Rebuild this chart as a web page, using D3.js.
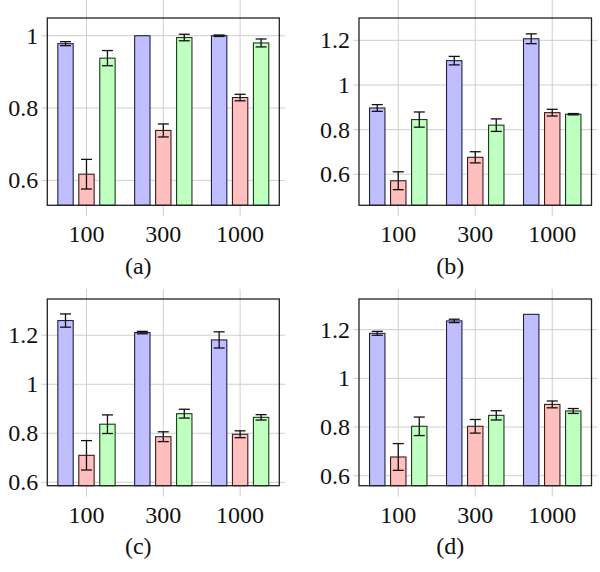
<!DOCTYPE html>
<html><head><meta charset="utf-8">
<script src="https://cdn.jsdelivr.net/npm/d3@7"></script>
<style>
html,body{margin:0;padding:0;background:#fff;}
text{font-family:"Liberation Serif","Times New Roman",serif;fill:#111;}
</style></head>
<body><svg id="chart" width="600" height="572"></svg>
<script>
// ---- data ----
const categories = ["100", "300", "1000"];
const seriesNames = ["blue", "red", "green"];

const aBlue = [0.978, 1.0, 1.0],      aBlueErr = [0.0055, null, 0.002];
const aRed = [0.617, 0.738, 0.829],   aRedErr = [0.041, 0.018, 0.009];
const aGreen = [0.938, 0.995, 0.980], aGreenErr = [0.021, 0.009, 0.011];

const bBlue = [0.897, 1.109, 1.207],  bBlueErr = [0.015, 0.019, 0.022];
const bRed = [0.571, 0.676, 0.876],   bRedErr = [0.040, 0.025, 0.015];
const bGreen = [0.845, 0.820, 0.869], bGreenErr = [0.034, 0.028, 0.003];

const cBlue = [1.260, 1.211, 1.181],  cBlueErr = [0.027, 0.005, 0.033];
const cRed = [0.710, 0.786, 0.796],   cRedErr = [0.060, 0.020, 0.014];
const cGreen = [0.837, 0.880, 0.865], cGreenErr = [0.038, 0.018, 0.011];

const dBlue = [1.185, 1.236, 1.263],  dBlueErr = [0.008, 0.007, null];
const dRed = [0.677, 0.803, 0.893],   dRedErr = [0.055, 0.028, 0.014];
const dGreen = [0.803, 0.848, 0.866], dGreenErr = [0.038, 0.019, 0.010];

const captions = ["(a)", "(b)", "(c)", "(d)"];
const yTicksA = [0.6, 0.8, 1];
const yTicksBCD = [0.6, 0.8, 1, 1.2];
const yLimits = [[0.531, 1.049], [0.461, 1.300], [0.586, 1.348], [0.559, 1.326]];

// ---- styles ----
const fills = {blue: "#bfbfff", red: "#ffbfbf", green: "#bfffbf"};
const strokes = {blue: "#1f1f4a", red: "#3a1c1c", green: "#1c3a1c"};
const gridColor = "#cfcfcf";
const fontSize = 24;

const panels = [
  {vals: [aBlue, aRed, aGreen], errs: [aBlueErr, aRedErr, aGreenErr], ticks: yTicksA, lim: yLimits[0], cap: captions[0], x0: 47.3, y0: 18, w: 232, h: 187.3},
  {vals: [bBlue, bRed, bGreen], errs: [bBlueErr, bRedErr, bGreenErr], ticks: yTicksBCD, lim: yLimits[1], cap: captions[1], x0: 359, y0: 18, w: 232.5, h: 187.3},
  {vals: [cBlue, cRed, cGreen], errs: [cBlueErr, cRedErr, cGreenErr], ticks: yTicksBCD, lim: yLimits[2], cap: captions[2], x0: 47.3, y0: 299, w: 232, h: 186.7},
  {vals: [dBlue, dRed, dGreen], errs: [dBlueErr, dRedErr, dGreenErr], ticks: yTicksBCD, lim: yLimits[3], cap: captions[3], x0: 359, y0: 299, w: 232.5, h: 186.7}
];

const svg = d3.select("#chart");

panels.forEach((p, pi) => {
  const g = svg.append("g").attr("transform", `translate(${p.x0},${p.y0})`);
  const x = d3.scaleLinear().domain([-0.51, categories.length - 1 + 0.51]).range([0, p.w]);
  const step = x(1) - x(0);
  const y = d3.scaleLinear().domain(p.lim).range([p.h, 0]);
  const barW = step * 0.2;
  const shift = step * 0.273;

  // vertical grid + outward ticks
  categories.forEach((c, i) => {
    const xx = x(i);
    g.append("line").attr("x1", xx).attr("x2", xx).attr("y1", pi < 2 ? -p.y0 : -10).attr("y2", p.h + 11)
      .attr("stroke", gridColor).attr("stroke-width", 1);
  });
  // horizontal grid + outward ticks
  p.ticks.forEach(t => {
    const yy = y(t);
    g.append("line").attr("x1", -6).attr("x2", p.w + 6).attr("y1", yy).attr("y2", yy)
      .attr("stroke", gridColor).attr("stroke-width", 1);
  });

  // bars
  seriesNames.forEach((s, si) => {
    const off = (si - 1) * shift;
    g.selectAll(null).data(p.vals[si]).join("rect")
      .attr("x", (d, i) => x(i) + off - barW / 2)
      .attr("width", barW)
      .attr("y", d => y(d))
      .attr("height", d => p.h - y(d))
      .attr("fill", fills[s]).attr("stroke", strokes[s]).attr("stroke-width", 1.1);
  });
  // error bars
  seriesNames.forEach((s, si) => {
    const off = (si - 1) * shift;
    p.vals[si].forEach((v, i) => {
      const e = p.errs[si][i];
      if (e == null) return;
      const cx = x(i) + off;
      const eg = g.append("g").attr("stroke", "#111").attr("stroke-width", 1.3);
      eg.append("line").attr("x1", cx).attr("x2", cx).attr("y1", y(v - e)).attr("y2", y(v + e));
      eg.append("line").attr("x1", cx - 5.5).attr("x2", cx + 5.5).attr("y1", y(v - e)).attr("y2", y(v - e));
      eg.append("line").attr("x1", cx - 5.5).attr("x2", cx + 5.5).attr("y1", y(v + e)).attr("y2", y(v + e));
    });
  });

  // frame
  g.append("rect").attr("x", 0).attr("y", 0).attr("width", p.w).attr("height", p.h)
    .attr("fill", "none").attr("stroke", "#222").attr("stroke-width", 1.3);

  // y tick labels
  g.selectAll(null).data(p.ticks).join("text")
    .attr("x", -9).attr("y", d => y(d) + 8)
    .attr("text-anchor", "end").attr("font-size", fontSize)
    .text(d => d3.format("~g")(d));

  // x tick labels
  g.selectAll(null).data(categories).join("text")
    .attr("x", (d, i) => x(i)).attr("y", p.h + 37)
    .attr("text-anchor", "middle").attr("font-size", fontSize)
    .text(d => d);

  // caption
  g.append("text").attr("x", p.w / 2 - 25).attr("y", p.h + 68.5)
    .attr("text-anchor", "middle").attr("font-size", fontSize).text(p.cap);
});
</script></body></html>
